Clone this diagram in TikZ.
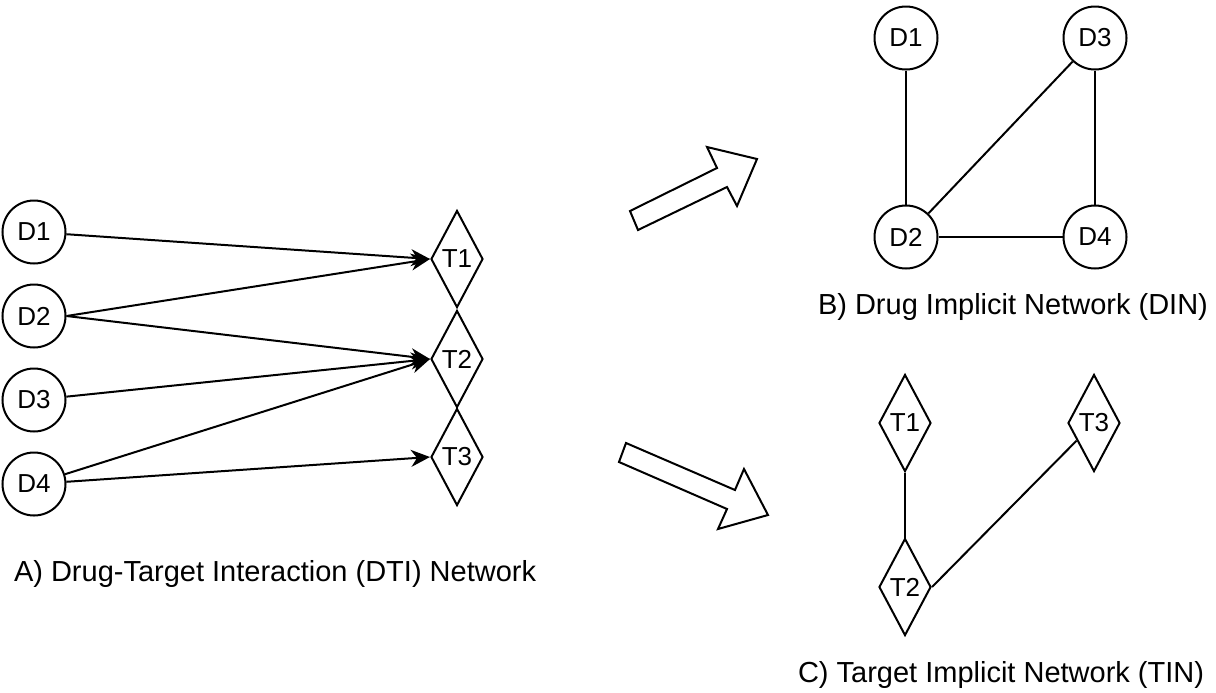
\documentclass[tikz,border=0pt]{standalone}
\usepackage{fontspec}
\setmainfont{Liberation Sans}
\usetikzlibrary{arrows.meta, shapes.geometric}

\begin{document}
\begin{tikzpicture}[
  x=0.5pt, y=-0.5pt,
  line width=1pt,
  drug/.style={circle, draw, minimum size=31.5pt, inner sep=0pt, font=\fontsize{13}{15}\selectfont},
  target/.style={diamond, draw, minimum width=26pt, minimum height=48.5pt, inner sep=0pt, font=\fontsize{13}{15}\selectfont},
  link/.style={draw},
  dti/.style={draw, -{Stealth[length=9.5pt, width=8.5pt, inset=3pt]}},
  bigarrow/.style={draw, fill=white, line join=miter},
  caption/.style={anchor=base west, inner sep=0pt, font=\fontsize{14.5}{17}\selectfont}
]
  \useasboundingbox[fill=white] (0,0) rectangle (1216,692);
  % A) DTI network
  \foreach \i in {1,...,4} {
    \pgfmathsetmacro{\yy}{232+(\i-1)*84}
    \node[drug] (aD\i) at (34,\yy) {D\i};
  }
  \node[target] (aT1) at (457,259) {T1};
  \node[target] (aT2) at (457,359) {T2};
  \node[target] (aT3) at (457,457) {T3};
  \draw[dti] (aD1) -- (aT1.west);
  \draw[dti] (aD2.east) -- (aT1.west);
  \draw[dti] (aD2.east) -- (aT2.west);
  \draw[dti] (aD3) -- (aT2.west);
  \draw[dti] (aD4) -- (aT2.west);
  \draw[dti] (aD4) -- (aT3.west);
  \node[caption] (capA) at (13,581) {A) Drug-Target Interaction (DTI) Network};

  % block arrows
  \draw[bigarrow] (630,211) -- (717,168) -- (707,147) -- (757,159) -- (737,206) -- (727,187) -- (638,230) -- cycle;
  \draw[bigarrow] (626,443) -- (735,490) -- (744,469) -- (768,515) -- (718,529) -- (727,509) -- (619,462) -- cycle;

  % B) DIN
  \node[drug] (bD1) at (906,38) {D1};
  \node[drug] (bD3) at (1095,38) {D3};
  \node[drug] (bD2) at (906,237) {D2};
  \node[drug] (bD4) at (1095,237) {D4};
  \draw[link] (bD1) -- (bD2);
  \draw[link] (bD3) -- (bD4);
  \draw[link] (bD2) -- (bD4);
  \draw[link] (bD2) -- (bD3);
  \node[caption] (capB) at (817,314) {B) Drug Implicit Network (DIN)};

  % C) TIN
  \node[target] (cT1) at (905,423) {T1};
  \node[target] (cT3) at (1094,423) {T3};
  \node[target] (cT2) at (905,587) {T2};
  \draw[link] (cT1) -- (cT2);
  \draw[link] (cT2.east) -- (cT3);
  \node[caption] (capC) at (797,682) {C) Target Implicit Network (TIN)};
\end{tikzpicture}
\end{document}
